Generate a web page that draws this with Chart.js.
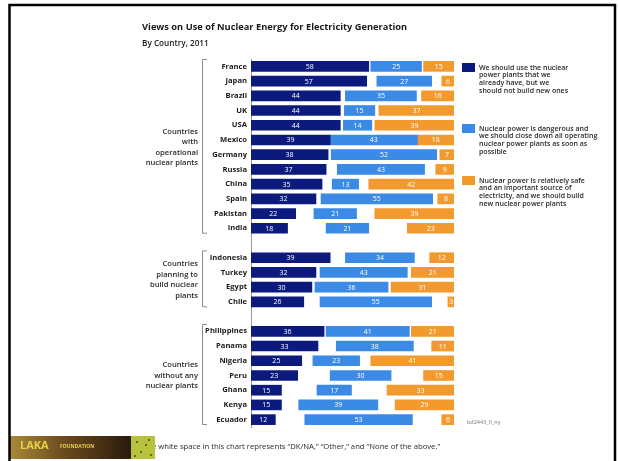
<!DOCTYPE html>
<html>
<head>
<meta charset="utf-8">
<script src="https://cdn.jsdelivr.net/npm/chart.js@4/dist/chart.umd.min.js"></script>
<style>
  html, body { margin: 0; padding: 0; background: #fff; }
  #wrap { width: 619px; height: 461px; position: relative; }
</style>
</head>
<body>
<div id="wrap"><canvas id="graph"></canvas></div>
<script>
// values, blank rows separate the three groups
const categories = ['France', 'Japan', 'Brazil', 'UK', 'USA', 'Mexico', 'Germany', 'Russia', 'China', 'Spain', 'Pakistan', 'India',
  '', 'Indonesia', 'Turkey', 'Egypt', 'Chile',
  '', 'Philippines', 'Panama', 'Nigeria', 'Peru', 'Ghana', 'Kenya', 'Ecuador'];
const useExisting = [58, 57, 44, 44, 44, 39, 38, 37, 35, 32, 22, 18, null, 39, 32, 30, 26, null, 36, 33, 25, 23, 15, 15, 12];
const closeDown = [25, 27, 35, 15, 14, 43, 52, 43, 13, 55, 21, 21, null, 34, 43, 36, 55, null, 41, 38, 23, 30, 17, 39, 53];
const buildNew = [15, 6, 16, 37, 39, 18, 7, 9, 42, 8, 39, 23, null, 12, 21, 31, 3, null, 21, 11, 41, 15, 33, 29, 6];

const seriesNames = [
  ['We should use the nuclear', 'power plants that we', 'already have, but we', 'should not build new ones'],
  ['Nuclear power is dangerous and', 'we should close down all operating', 'nuclear power plants as soon as', 'possible'],
  ['Nuclear power is relatively safe', 'and an important source of', 'electricity, and we should build', 'new nuclear power plants']
];
const groups = [
  { first: 0, last: 11, lines: ['Countries', 'with', 'operational', 'nuclear plants'] },
  { first: 13, last: 16, lines: ['Countries', 'planning to', 'build nuclear', 'plants'] },
  { first: 18, last: 24, lines: ['Countries', 'without any', 'nuclear plants'] }
];

const DARK = '#0c1a7d';
const BLUE = '#3b8ae6';
const ORANGE = '#f29a2e';
const FONT = '"Open Sans", "Liberation Sans", sans-serif';

// the "DK/NA" white space is split around the middle bar
const gapHalf = categories.map((c, i) =>
  useExisting[i] == null ? null : (100 - useExisting[i] - closeDown[i] - buildNew[i]) / 2);

const valueLabels = {
  id: 'valueLabels',
  afterDatasetsDraw(chart) {
    const ctx = chart.ctx;
    ctx.save();
    ctx.fillStyle = '#fff';
    ctx.font = '7px ' + FONT;
    ctx.textAlign = 'center';
    ctx.textBaseline = 'middle';
    [0, 2, 4].forEach(di => {
      const meta = chart.getDatasetMeta(di);
      meta.data.forEach((bar, i) => {
        const v = chart.data.datasets[di].data[i];
        if (v == null) return;
        ctx.fillText(String(v), (bar.x + bar.base) / 2, bar.y + 0.5);
      });
    });
    ctx.restore();
  }
};

const decorations = {
  id: 'decorations',
  afterDraw(chart) {
    const ctx = chart.ctx;
    const y = chart.scales.y;
    const step = y.getPixelForValue(1) - y.getPixelForValue(0);
    ctx.save();

    // title
    ctx.fillStyle = '#1a1a1a';
    ctx.textBaseline = 'middle';
    ctx.textAlign = 'left';
    ctx.font = 'bold 9.3px ' + FONT;
    ctx.fillText('Views on Use of Nuclear Energy for Electricity Generation', 142, 27);
    ctx.font = '600 8.2px ' + FONT;
    ctx.fillText('By Country, 2011', 142, 44);

    // group brackets and labels
    groups.forEach(g => {
      const top = y.getPixelForValue(g.first) - step * 0.5;
      const bottom = y.getPixelForValue(g.last) + step * 0.3;
      ctx.strokeStyle = '#8a8a8a';
      ctx.lineWidth = 1;
      ctx.beginPath();
      ctx.moveTo(207, top + 0.5);
      ctx.lineTo(202.5, top + 0.5);
      ctx.lineTo(202.5, bottom + 0.5);
      ctx.lineTo(207, bottom + 0.5);
      ctx.stroke();

      const mid = (y.getPixelForValue(g.first) + y.getPixelForValue(g.last)) / 2;
      const lh = 10.6;
      ctx.fillStyle = '#2a2a2a';
      ctx.textAlign = 'right';
      ctx.font = '600 7.6px ' + FONT;
      g.lines.forEach((t, k) => {
        ctx.fillText(t, 198, mid + (k - (g.lines.length - 1) / 2) * lh);
      });
    });

    // legend
    const colors = [DARK, BLUE, ORANGE];
    const tops = [63, 124, 176];
    ctx.textAlign = 'left';
    seriesNames.forEach((lines, k) => {
      ctx.fillStyle = colors[k];
      ctx.fillRect(462, tops[k], 13, 9);
      ctx.fillStyle = '#2a2a2a';
      ctx.font = '600 7px ' + FONT;
      lines.forEach((t, j) => ctx.fillText(t, 479, tops[k] + 4.5 + j * 7.8));
    });

    // source code at the bottom right
    ctx.fillStyle = '#777';
    ctx.font = '5.5px ' + FONT;
    ctx.fillText('bd2443_0_ny', 467, 422);

    // footnote
    ctx.fillStyle = '#2a2a2a';
    ctx.font = '7.7px ' + FONT;
    ctx.fillText('The white space in this chart represents \u201cDK/NA,\u201d \u201cOther,\u201d and \u201cNone of the above.\u201d', 143, 447);

    // logo strip
    const grad = ctx.createLinearGradient(10, 0, 131, 0);
    grad.addColorStop(0, '#a88a3a');
    grad.addColorStop(0.45, '#6a4a1e');
    grad.addColorStop(1, '#2a1a0c');
    ctx.fillStyle = grad;
    ctx.fillRect(10, 436, 121, 23);
    ctx.fillStyle = '#b9c23c';
    ctx.fillRect(131, 436, 24, 23);
    ctx.fillStyle = '#5d6a1c';
    [[136, 441], [145, 444], [140, 451], [150, 454], [148, 439], [134, 455]].forEach(p => {
      ctx.fillRect(p[0], p[1], 2, 2);
    });
    ctx.fillStyle = '#e8d24a';
    ctx.font = 'bold 11px ' + FONT;
    ctx.fillText('LAKA', 20, 446);
    ctx.font = 'bold 5px ' + FONT;
    ctx.fillText('FOUNDATION', 60, 447);

    // frame
    ctx.strokeStyle = '#000';
    ctx.lineWidth = 2.5;
    ctx.beginPath();
    ctx.moveTo(9.5, 461);
    ctx.lineTo(9.5, 5);
    ctx.lineTo(615, 5);
    ctx.lineTo(615, 461);
    ctx.stroke();

    ctx.restore();
  }
};

new Chart(document.querySelector('#graph').getContext('2d'), {
  type: 'bar',
  data: {
    labels: categories,
    datasets: [
      { label: seriesNames[0].join(' '), data: useExisting, backgroundColor: DARK },
      { label: 'gap', data: gapHalf, backgroundColor: 'rgba(0,0,0,0)' },
      { label: seriesNames[1].join(' '), data: closeDown, backgroundColor: BLUE },
      { label: 'gap', data: gapHalf, backgroundColor: 'rgba(0,0,0,0)' },
      { label: seriesNames[2].join(' '), data: buildNew, backgroundColor: ORANGE }
    ]
  },
  options: {
    indexAxis: 'y',
    responsive: true,
    maintainAspectRatio: false,
    animation: false,
    datasets: { bar: { barThickness: 10 } },
    layout: { padding: { top: 59, bottom: 34, left: 0, right: 165 } },
    plugins: { legend: { display: false }, tooltip: { enabled: false } },
    scales: {
      x: { stacked: true, min: 0, max: 100, display: false },
      y: {
        stacked: true,
        grid: { display: false, drawTicks: false },
        border: { display: true, color: '#9a9a9a', width: 1 },
        ticks: { color: '#1a1a1a', padding: 4, font: { family: FONT, size: 7.6, weight: 'bold' } },
        afterFit(scale) { scale.width = 251; }
      }
    }
  },
  plugins: [valueLabels, decorations]
});
</script>
</body>
</html>
